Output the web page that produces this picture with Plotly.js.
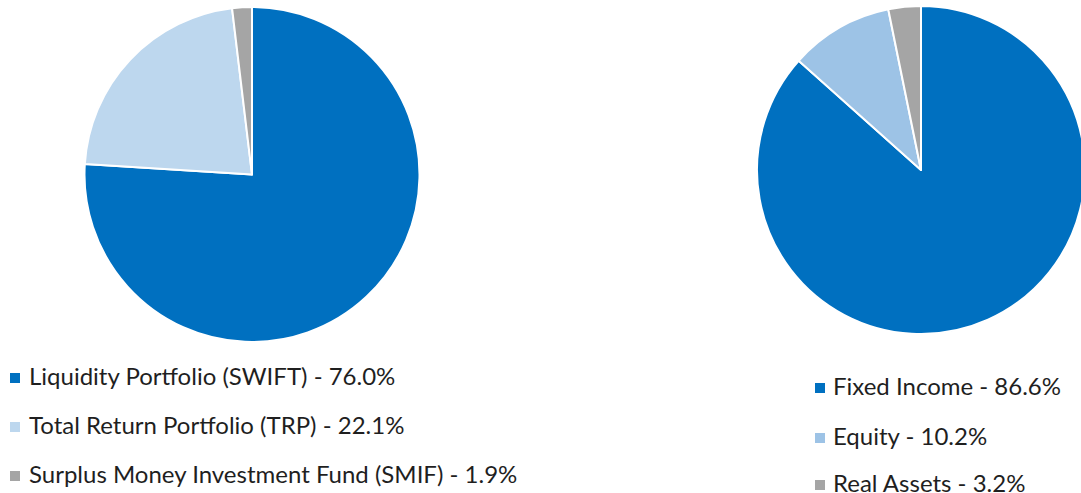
<!DOCTYPE html>
<html>
<head>
<meta charset="utf-8">
<script src="https://cdn.plot.ly/plotly-3.0.1.min.js"></script>
<style>
html,body{margin:0;padding:0;overflow:hidden;background:#fff;}
#chart{width:1090px;height:493px;}
</style>
</head>
<body>
<div id="chart"></div>
<script>
// Data
const leftLabels = ["Liquidity Portfolio (SWIFT)", "Total Return Portfolio (TRP)", "Surplus Money Investment Fund (SMIF)"];
const leftValues = [76.0, 22.1, 1.9];
const leftColors = ["#0070C0", "#BDD7EE", "#A5A5A5"];

const rightLabels = ["Fixed Income", "Equity", "Real Assets"];
const rightValues = [86.6, 10.2, 3.2];
const rightColors = ["#0070C0", "#9DC3E6", "#A5A5A5"];

const W = 1090, H = 493;
const px = x => x / W;
const py = y => 1 - y / H;

const font = "Lato, 'Open Sans', sans-serif";

const traces = [
  {
    type: "pie", labels: leftLabels, values: leftValues, sort: false,
    direction: "clockwise", rotation: 0, textinfo: "none", hoverinfo: "label+percent",
    marker: {colors: leftColors, line: {color: "#ffffff", width: 2}},
    domain: {x: [px(84), px(420)], y: [py(342), py(7)]}
  },
  {
    type: "pie", labels: rightLabels, values: rightValues, sort: false,
    direction: "clockwise", rotation: 0, textinfo: "none", hoverinfo: "label+percent",
    marker: {colors: rightColors, line: {color: "#ffffff", width: 2}},
    domain: {x: [px(757), px(1085)], y: [py(334), py(6)]}
  }
];

const annotations = [];
const shapes = [];
function addLegend(labels, values, colors, mx, tx, ys, sz) {
  labels.forEach((l, i) => {
    annotations.push({
      xref: "paper", yref: "paper", x: px(tx), y: py(ys[i] - 3),
      xanchor: "left", yanchor: "middle", showarrow: false,
      text: l + " - " + values[i].toFixed(1) + "%",
      font: {family: font, size: 24, color: "#1f1f1f"}
    });
    shapes.push({
      type: "rect", xref: "paper", yref: "paper",
      x0: px(mx), x1: px(mx + sz), y0: py(ys[i] - sz / 2), y1: py(ys[i] + sz / 2),
      fillcolor: colors[i], line: {width: 0}
    });
  });
}
addLegend(leftLabels, leftValues, leftColors, 10, 27, [378, 427, 476], 10);
addLegend(rightLabels, rightValues, rightColors, 815, 831, [388, 438, 485], 10);

const layout = {
  width: W, height: H,
  margin: {l: 0, r: 0, t: 0, b: 0},
  showlegend: false,
  paper_bgcolor: "#ffffff",
  annotations: annotations,
  shapes: shapes
};

Plotly.newPlot("chart", traces, layout, {displayModeBar: false, staticPlot: true});
</script>
</body>
</html>
